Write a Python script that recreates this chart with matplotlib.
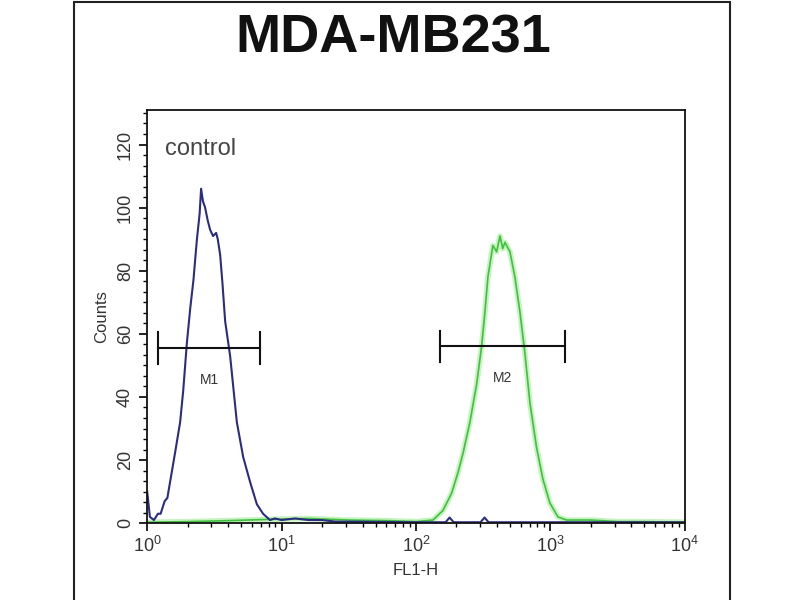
import matplotlib
matplotlib.use("Agg")
import matplotlib.pyplot as plt
import numpy as np
from matplotlib.ticker import LogLocator, AutoMinorLocator, NullFormatter, FixedLocator
from matplotlib.patches import Rectangle

plt.rcParams['font.family'] = ['Liberation Sans', 'DejaVu Sans']
plt.rcParams['mathtext.fontset'] = 'custom'
plt.rcParams['mathtext.rm'] = 'Liberation Sans'

title = "MDA-MB231"

# control histogram (blue): FL1-H position in decades, counts
blue_log = [0.0, 0.02, 0.05, 0.08, 0.10, 0.13, 0.15, 0.17, 0.19, 0.21, 0.245,
            0.268, 0.295, 0.32, 0.344, 0.37, 0.39, 0.401, 0.415, 0.431, 0.45,
            0.468, 0.49, 0.513, 0.525, 0.543, 0.56, 0.58, 0.617, 0.667, 0.714,
            0.766, 0.816, 0.862, 0.914, 0.95, 1.0, 1.1, 1.2, 1.3, 1.4, 1.5,
            2.0, 2.22, 2.25, 2.28, 2.48, 2.51, 2.54, 3.0, 4.0]
blue_counts = [10, 2, 1, 3, 3, 7, 8, 13, 18, 23, 32,
               42, 57, 68, 77, 90, 98, 106, 102, 100, 96,
               93, 91, 92, 90, 85, 76, 64, 53, 32, 21,
               13, 6, 3, 1, 1.5, 1, 1.5, 1, 1, 0.5, 0.5,
               0.3, 0.3, 1.8, 0.3, 0.3, 1.8, 0.3, 0.3, 0.3]

# antibody histogram (green)
green_log = [0.0, 0.3, 0.6, 0.9, 1.2, 1.5, 1.8, 2.0, 2.126, 2.2, 2.265, 2.312,
             2.349, 2.401, 2.451, 2.488, 2.513, 2.535, 2.572, 2.60, 2.625,
             2.645, 2.662, 2.699, 2.736, 2.773, 2.810, 2.848, 2.897, 2.944,
             2.996, 3.056, 3.12, 3.3, 3.5, 3.7, 4.0]
green_counts = [0.3, 0.5, 0.8, 1.2, 1.5, 1, 0.8, 0.5, 1, 4, 9.5, 16,
                22, 32, 44, 56, 67, 78, 88, 86, 91,
                87, 89, 86, 78, 67, 54, 38, 24, 14,
                6.4, 2, 1, 1, 0.5, 0.5, 0.3]

# gates: (label, left, right, height)
markers = [("M1", 1.21, 6.9, 55.5), ("M2", 151, 1280, 56)]

blue_x = 10 ** np.array(blue_log)
green_x = 10 ** np.array(green_log)

fig = plt.figure(figsize=(8, 6), dpi=100)
fig.patches.append(Rectangle((0.0925, -0.01), 0.82, 1.007, transform=fig.transFigure,
                             fill=False, edgecolor='#222222', linewidth=1.5))
ax = fig.add_axes([0.184, 0.128, 0.672, 0.689])

ax.plot(green_x, green_counts, color='#b8f0b0', linewidth=4, alpha=0.8)
ax.plot(green_x, green_counts, color='#40c040', linewidth=1.2)
ax.plot(blue_x, blue_counts, color='#2c2c80', linewidth=1.5)

for name, lo, hi, h in markers:
    ax.plot([lo, hi], [h, h], color='#111111', linewidth=1.5)
    ax.plot([lo, lo], [h - 5, h + 5], color='#111111', linewidth=1.5)
    ax.plot([hi, hi], [h - 5, h + 5], color='#111111', linewidth=1.5)
    ax.text(np.sqrt(lo * hi), h - 10, name, ha='center', va='center',
            fontsize=10, color='#333333')

ax.text(0.033, 0.905, "control", transform=ax.transAxes, fontsize=17,
        color='#444444', ha='left', va='center')

ax.set_xscale('log')
ax.set_xlim(1, 1e4)
ax.set_ylim(0, 131)
ax.xaxis.set_major_locator(LogLocator(base=10, numticks=10))
ax.xaxis.set_minor_locator(LogLocator(base=10, subs=np.arange(2, 10), numticks=10))
ax.xaxis.set_minor_formatter(NullFormatter())
ax.yaxis.set_major_locator(FixedLocator([0, 20, 40, 60, 80, 100, 120]))
ax.yaxis.set_minor_locator(AutoMinorLocator(6))

ax.tick_params(axis='both', which='major', direction='out', length=6, width=1.2,
               labelsize=13, labelcolor='#333333')
ax.tick_params(axis='both', which='minor', direction='out', length=3, width=1.0)
for lab in ax.get_yticklabels():
    lab.set_rotation(90)
    lab.set_va('center')

for sp in ax.spines.values():
    sp.set_linewidth(1.3)
    sp.set_color('#111111')

ax.set_xlabel("FL1-H", fontsize=12, color='#333333', labelpad=5)
ax.set_ylabel("Counts", fontsize=12, color='#333333', labelpad=6)

fig.text(0.491, 0.913, title, ha='center', va='baseline', fontsize=39,
         fontweight='bold', color='#111111')

fig.savefig("out.png", dpi=100, facecolor='white')
